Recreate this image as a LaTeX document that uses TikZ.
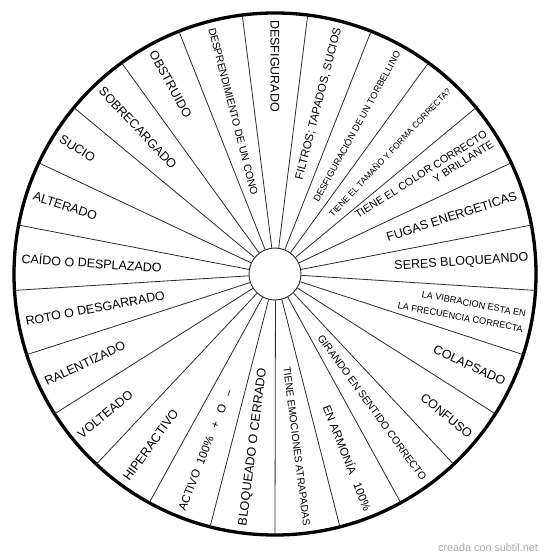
\documentclass[tikz,border=0pt]{standalone}
\usepackage{fontspec}
\setmainfont{Liberation Sans}
\definecolor{clSpoke}{HTML}{2B2B2B}
\definecolor{clMark}{HTML}{A8A8A8}
\tikzset{
  rim/.style={draw=black, line width=3.3pt},
  hub/.style={circle, draw=clSpoke, line width=0.9pt, fill=white,
              minimum size=52pt, inner sep=0pt},
  spoke/.style={draw=clSpoke, line width=0.8pt},
  word/.style={inner sep=0pt, font=\fontsize{12.5}{14}\selectfont},
  wordR/.style={word, anchor=east, rotate=#1},
  wordL/.style={word, anchor=west, rotate=#1+180},
  fs/.style 2 args={font=\fontsize{#1}{#2}\selectfont},
  credittext/.style={font=\fontsize{10.8}{12}\selectfont, text=clMark, inner sep=0pt},
}

\begin{document}
\begin{tikzpicture}[x=1pt, y=1pt]
  \useasboundingbox (-275,-285) rectangle (275,274);
  % wheel
  \draw[rim] (0,0) circle (261);
  \node[hub] (hub) at (0,0) {};
  \foreach \k [evaluate=\k as \a using 97.2-14.4*\k] in {0,...,24}
    \draw[spoke] (hub.\a) -- (\a:261);
  % right half, reading outwards
  \node[wordR=75.6, fs={11.4}{13}] (tFiltros) at (75.6:254) {FILTROS; TAPADOS, SUCIOS};
  \node[wordR=61.2, fs={9.3}{11}] (tTorbellino) at (61.2:254) {DESFIGURACIÓN DE UN TORBELLINO};
  \node[wordR=46.8, fs={8.6}{10}] (tTamano) at (46.8:254) {TIENE EL TAMAÑO Y FORMA CORRECTA?};
  \node[wordR=32.4, fs={10.8}{12}, align=right] (tColor) at (32.4:254) {TIENE EL COLOR CORRECTO\\Y BRILLANTE};
  \node[wordR=18] (tFugas) at (18:254) {FUGAS ENERGETICAS};
  \node[wordR=3.6] (tSeres) at (3.6:254) {SERES BLOQUEANDO};
  \node[wordR=-10.8, fs={9.2}{15.5}, align=right] (tVibracion) at (-10.8:254) {LA VIBRACION ESTA EN\\LA FRECUENCIA CORRECTA};
  \node[wordR=-25.2] (tColapsado) at (-25.2:254) {COLAPSADO};
  \node[wordR=-39.6] (tConfuso) at (-39.6:254) {CONFUSO};
  \node[wordR=-54, fs={10.4}{12}] (tGirando) at (-54:254) {GIRANDO EN SENTIDO CORRECTO};
  \node[wordR=-68.4, fs={11.5}{13}] (tArmonia) at (-68.4:254) {EN ARMONÍA\ \ \ 100\%};
  \node[wordR=-82.8, fs={10.3}{12}] (tEmociones) at (-82.8:254) {TIENE EMOCIONES ATRAPADAS};
  % left half, reading inwards
  \node[wordL=90] (tDesfigurado) at (90:254) {DESFIGURADO};
  \node[wordL=-97.2] (tBloqueado) at (-97.2:254) {BLOQUEADO O CERRADO};
  \node[wordL=-111.6, fs={11.5}{13}] (tActivo) at (-111.6:254) {ACTIVO\ \ 100\%\ \ \ +\ \ \ O\ \ \ –};
  \node[wordL=-126] (tHiperactivo) at (-126:254) {HIPERACTIVO};
  \node[wordL=-140.4] (tVolteado) at (-140.4:254) {VOLTEADO};
  \node[wordL=-154.8] (tRalentizado) at (-154.8:254) {RALENTIZADO};
  \node[wordL=-169.2] (tRoto) at (-169.2:254) {ROTO O DESGARRADO};
  \node[wordL=176.4] (tCaido) at (176.4:254) {CAÍDO O DESPLAZADO};
  \node[wordL=162] (tAlterado) at (162:254) {ALTERADO};
  \node[wordL=147.6] (tSucio) at (147.6:254) {SUCIO};
  \node[wordL=133.2] (tSobrecargado) at (133.2:254) {SOBRECARGADO};
  \node[wordL=118.8] (tObstruido) at (118.8:254) {OBSTRUIDO};
  \node[wordL=104.4, fs={10.5}{12}] (tCono) at (104.4:254) {DESPRENDIMIENTO DE UN CONO};
  % watermark
  \node[credittext, anchor=east] (credit) at (263,-274) {creada con subtil.net};
\end{tikzpicture}
\end{document}
